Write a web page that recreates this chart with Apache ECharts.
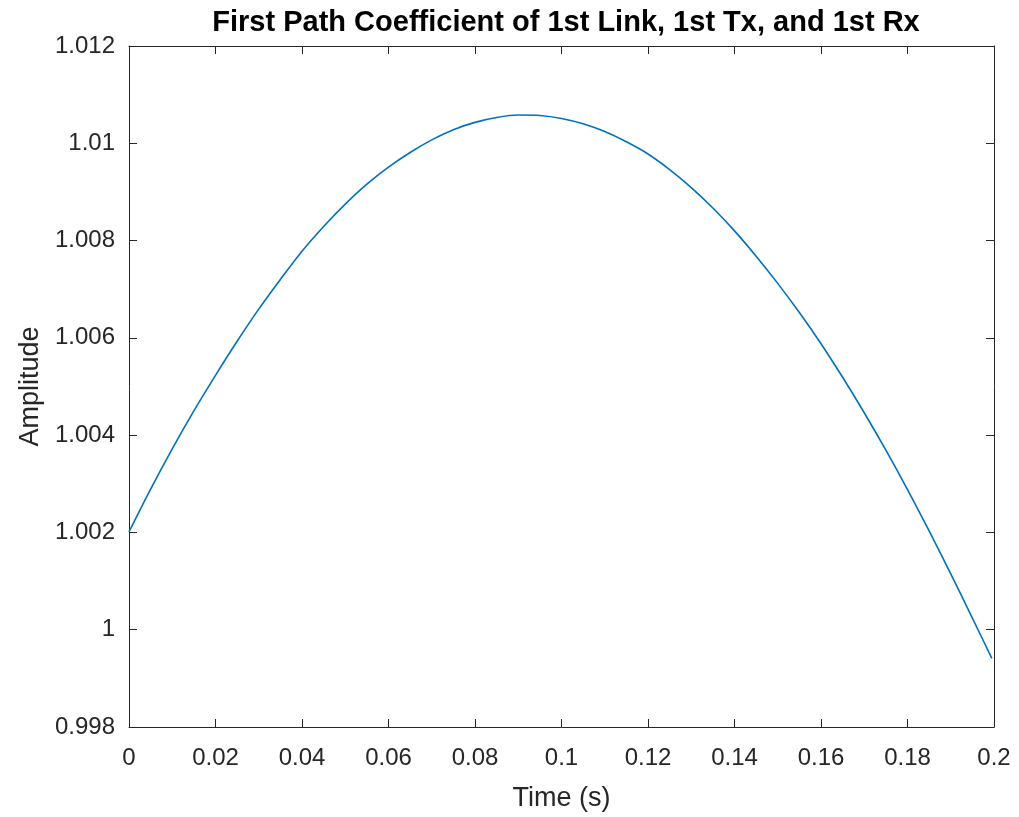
<!DOCTYPE html>
<html>
<head>
<meta charset="utf-8">
<script src="https://cdn.jsdelivr.net/npm/echarts@6/dist/echarts.min.js"></script>
<style>
html,body{margin:0;padding:0;background:#fff;}
#chart{width:1019px;height:817px;}
</style>
</head>
<body>
<div id="chart"></div>
<script>
var timeValues = [0, 0.005, 0.01, 0.015, 0.02, 0.025, 0.03, 0.035, 0.04, 0.045, 0.05, 0.055, 0.06, 0.065, 0.07, 0.075, 0.08, 0.085, 0.09, 0.095, 0.1, 0.105, 0.11, 0.115, 0.12, 0.125, 0.13, 0.135, 0.14, 0.145, 0.15, 0.155, 0.16, 0.165, 0.17, 0.175, 0.18, 0.185, 0.19, 0.195, 0.1995];
var amplitudeValues = [1.00201, 1.00289, 1.00372, 1.00450, 1.00523, 1.00593, 1.00659, 1.00720, 1.00778, 1.00829, 1.00875, 1.00916, 1.00951, 1.00981, 1.01007, 1.01028, 1.01043, 1.01053, 1.01058, 1.01057, 1.01051, 1.01040, 1.01024, 1.01003, 1.00978, 1.00946, 1.00909, 1.00867, 1.00820, 1.00768, 1.00712, 1.00652, 1.00588, 1.00519, 1.00446, 1.00369, 1.00288, 1.00203, 1.00115, 1.00024, 0.99941];
var xTickLabels = ['0','0.02','0.04','0.06','0.08','0.1','0.12','0.14','0.16','0.18','0.2'];
var yTickLabels = ['0.998','1','1.002','1.004','1.006','1.008','1.01','1.012'];
var titleText = 'First Path Coefficient of 1st Link, 1st Tx, and 1st Rx';
var xLabel = 'Time (s)';
var yLabel = 'Amplitude';

var data = timeValues.map(function(t, i){ return [t, amplitudeValues[i]]; });
var axisColor = '#262626';
var font = 'Liberation Sans, Arial, Helvetica, sans-serif';

function fmtX(v){ var i = Math.round(v/0.02); return xTickLabels[i] !== undefined ? xTickLabels[i] : ''; }
function fmtY(v){ var i = Math.round((v-0.998)/0.002); return yTickLabels[i] !== undefined ? yTickLabels[i] : ''; }

var chart = echarts.init(document.getElementById('chart'), null, {renderer:'canvas'});
var common = {
  axisLine:{show:true, onZero:false, lineStyle:{color:axisColor, width:1}},
  axisTick:{show:true, inside:true, length:8, lineStyle:{color:axisColor, width:1}},
  splitLine:{show:false}
};
chart.setOption({
  animation:false,
  backgroundColor:'#fff',
  title:{
    text:titleText, left:561, top:3, textAlign:'center',
    textStyle:{fontFamily:font, fontSize:29, fontWeight:'bold', color:'#000'}
  },
  grid:{left:129, right:25, top:46, bottom:87, containLabel:false},
  xAxis:[
    Object.assign({type:'value', position:'bottom', min:0, max:0.2, interval:0.02,
      name:xLabel, nameLocation:'middle', nameGap:58,
      nameTextStyle:{fontFamily:font, fontSize:27, color:axisColor},
      axisLabel:{formatter:fmtX, fontFamily:font, fontSize:24, color:axisColor, margin:19}}, common),
    Object.assign({type:'value', position:'top', min:0, max:0.2, interval:0.02,
      axisLabel:{show:false}}, common)
  ],
  yAxis:[
    Object.assign({type:'value', position:'left', min:0.998, max:1.012, interval:0.002,
      name:yLabel, nameLocation:'middle', nameGap:84, nameRotate:90,
      nameTextStyle:{fontFamily:font, fontSize:27, color:axisColor},
      axisLabel:{formatter:fmtY, fontFamily:font, fontSize:24, color:axisColor, margin:14}}, common),
    Object.assign({type:'value', position:'right', min:0.998, max:1.012, interval:0.002,
      axisLabel:{show:false}}, common)
  ],
  series:[{
    type:'line', data:data, smooth:0.3, showSymbol:false,
    xAxisIndex:0, yAxisIndex:0,
    lineStyle:{color:'#0072BD', width:1.6}
  }]
});
</script>
</body>
</html>
